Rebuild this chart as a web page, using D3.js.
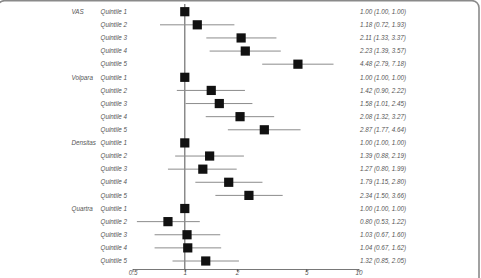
<!DOCTYPE html>
<html><head><meta charset="utf-8">
<script src="https://cdn.jsdelivr.net/npm/d3@7"></script>
<style>body{margin:0;background:#fff}svg{display:block}</style>
</head><body>
<svg id="c" width="481" height="278"></svg>
<script>
const groups = ["VAS", "Volpara", "Densitas", "Quartra"];
const quintiles = ["Quintile 1", "Quintile 2", "Quintile 3", "Quintile 4", "Quintile 5"];
const orVAS = [1.00, 1.18, 2.11, 2.23, 4.48];
const loVAS = [1.00, 0.72, 1.33, 1.39, 2.79];
const hiVAS = [1.00, 1.93, 3.37, 3.57, 7.18];
const orVolpara = [1.00, 1.42, 1.58, 2.08, 2.87];
const loVolpara = [1.00, 0.90, 1.01, 1.32, 1.77];
const hiVolpara = [1.00, 2.22, 2.45, 3.27, 4.64];
const orDensitas = [1.00, 1.39, 1.27, 1.79, 2.34];
const loDensitas = [1.00, 0.88, 0.80, 1.15, 1.50];
const hiDensitas = [1.00, 2.19, 1.99, 2.80, 3.66];
const orQuartra = [1.00, 0.80, 1.03, 1.04, 1.32];
const loQuartra = [1.00, 0.53, 0.67, 0.67, 0.85];
const hiQuartra = [1.00, 1.22, 1.60, 1.62, 2.05];
const tickValues = [0.5, 1, 2, 5, 10];

const series = [[orVAS, loVAS, hiVAS], [orVolpara, loVolpara, hiVolpara],
                [orDensitas, loDensitas, hiDensitas], [orQuartra, loQuartra, hiQuartra]];
const rows = [];
groups.forEach((g, gi) => quintiles.forEach((q, qi) => rows.push({
  group: qi === 0 ? g : "", q, or: series[gi][0][qi], lo: series[gi][1][qi], hi: series[gi][2][qi]
})));

const svg = d3.select("#c");
const x = d3.scaleLog().domain([0.5, 10]).range([132.5, 358.5]);
const y = d3.scaleLinear().domain([0, rows.length - 1]).range([11.7, 261]);
const fmt = d3.format(".2f");

// frame
svg.append("rect").attr("x", -2.5).attr("y", 0.7).attr("width", 481.5).attr("height", 320)
  .attr("rx", 7).attr("fill", "none").attr("stroke", "#8a8a8a").attr("stroke-width", 1.6);

// reference line
svg.append("line").attr("x1", x(1)).attr("x2", x(1)).attr("y1", 4).attr("y2", 269)
  .attr("stroke", "#6f6f6f").attr("stroke-width", 1.2);

// axis
const ax = svg.append("g").attr("transform", "translate(0,269)")
  .call(d3.axisBottom(x).tickValues(tickValues).tickFormat(d => d).tickSize(3).tickSizeOuter(0));
ax.select(".domain").attr("stroke", "#555").attr("stroke-width", 0.8);
ax.selectAll(".tick line").attr("stroke", "#555").attr("stroke-width", 0.8);
ax.selectAll(".tick text").attr("dy", "0.55em").attr("y", 3)
  .attr("font-family", "Liberation Sans, Arial, sans-serif").attr("font-size", 6.3)
  .attr("font-style", "italic").attr("fill", "#555");

const g = svg.append("g");
const r = g.selectAll("g.row").data(rows).enter().append("g");
r.append("line").attr("x1", d => x(d.lo)).attr("x2", d => x(d.hi))
  .attr("y1", (d, i) => y(i)).attr("y2", (d, i) => y(i))
  .attr("stroke", "#8c8c8c").attr("stroke-width", 1);
r.append("rect").attr("x", d => x(d.or) - 4.6).attr("y", (d, i) => y(i) - 4.6)
  .attr("width", 9.2).attr("height", 9.2).attr("fill", "#111");

const txt = sel => sel.attr("font-family", "Liberation Sans, Arial, sans-serif")
  .attr("font-size", 6.3).attr("font-style", "italic").attr("fill", "#555").attr("dy", "0.35em");
r.append("text").attr("x", 71.5).attr("y", (d, i) => y(i)).text(d => d.group).call(txt);
r.append("text").attr("x", 100.5).attr("y", (d, i) => y(i)).text(d => d.q).call(txt);
r.append("text").attr("x", 360).attr("y", (d, i) => y(i))
  .text(d => `${fmt(d.or)} (${fmt(d.lo)}, ${fmt(d.hi)})`).call(txt);
</script>
</body></html>
